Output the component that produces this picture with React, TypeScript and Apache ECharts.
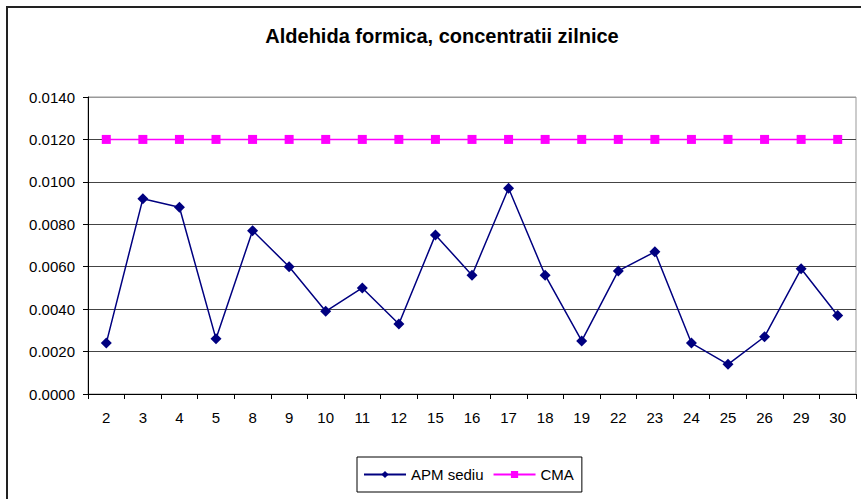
import React, { useEffect, useRef } from "react";
import * as echarts from "echarts";

const days = ["2", "3", "4", "5", "8", "9", "10", "11", "12", "15", "16", "17", "18", "19", "22", "23", "24", "25", "26", "29", "30"];
const apmSediu = [0.0024, 0.0092, 0.0088, 0.0026, 0.0077, 0.006, 0.0039, 0.005, 0.0033, 0.0075, 0.0056, 0.0097, 0.0056, 0.0025, 0.0058, 0.0067, 0.0024, 0.0014, 0.0027, 0.0059, 0.0037];
const cma = [0.012, 0.012, 0.012, 0.012, 0.012, 0.012, 0.012, 0.012, 0.012, 0.012, 0.012, 0.012, 0.012, 0.012, 0.012, 0.012, 0.012, 0.012, 0.012, 0.012, 0.012];
const titleText = "Aldehida formica, concentratii zilnice";

export default function App() {
  const ref = useRef<HTMLDivElement>(null);
  useEffect(() => {
    if (!ref.current) return;
    const chart = echarts.init(ref.current, null, { renderer: "svg" });
    const font = "Liberation Sans, Arial, sans-serif";
    chart.setOption({
      animation: false,
      backgroundColor: "#ffffff",
      textStyle: { fontFamily: font },
      title: {
        text: titleText,
        left: 437,
        top: 21,
        textAlign: "center",
        textStyle: { fontSize: 20, fontWeight: "bold", color: "#000", fontFamily: font },
      },
      grid: {
        left: 88,
        top: 97,
        width: 768,
        height: 297,
        show: true,
        borderColor: "#999",
        borderWidth: 1,
        backgroundColor: "transparent",
      },
      legend: {
        left: 357,
        top: 457,
        padding: [10, 8, 10, 6],
        itemGap: 9,
        itemWidth: 42,
        itemHeight: 9,
        borderColor: "#000",
        borderWidth: 1,
        textStyle: { fontSize: 15, color: "#000", fontFamily: font },
        data: ["APM sediu", "CMA"],
      },
      xAxis: {
        type: "category",
        data: days,
        boundaryGap: true,
        axisLine: { lineStyle: { color: "#000", width: 1 } },
        axisTick: { show: true, length: 5, alignWithLabel: false, lineStyle: { color: "#000" } },
        axisLabel: { fontSize: 15, color: "#000", margin: 16, fontFamily: font },
        splitLine: { show: false },
      },
      yAxis: {
        type: "value",
        min: 0,
        max: 0.014,
        interval: 0.002,
        axisLine: { show: true, lineStyle: { color: "#000", width: 1 } },
        axisTick: { show: true, length: 5, lineStyle: { color: "#000" } },
        axisLabel: {
          fontSize: 15,
          color: "#000",
          margin: 13,
          fontFamily: font,
          formatter: (v: number) => v.toFixed(4),
        },
        splitLine: {
          show: true,
          lineStyle: {
            color: ["#444", "#444", "#444", "#444", "#444", "#444", "#444", "#999"],
            width: 1,
          },
        },
      },
      graphic: [
        { type: "line", shape: { x1: 7, y1: 6, x2: 7, y2: 499 }, style: { stroke: "#222", lineWidth: 2 } },
        { type: "line", shape: { x1: 6, y1: 7, x2: 861, y2: 7 }, style: { stroke: "#222", lineWidth: 2 } },
      ],
      series: [
        {
          name: "APM sediu",
          type: "line",
          data: apmSediu,
          symbol: "diamond",
          symbolSize: 11,
          showAllSymbol: true,
          itemStyle: { color: "#000080" },
          lineStyle: { color: "#000080", width: 1.5 },
        },
        {
          name: "CMA",
          type: "line",
          data: cma,
          symbol: "rect",
          symbolSize: 9,
          showAllSymbol: true,
          itemStyle: { color: "#ff00ff" },
          lineStyle: { color: "#ff00ff", width: 1.5 },
        },
      ],
    });
    return () => chart.dispose();
  }, []);
  return (
    <div
      ref={ref}
      style={{ position: "fixed", left: 0, top: 0, width: 861, height: 499, background: "#fff" }}
    />
  );
}
